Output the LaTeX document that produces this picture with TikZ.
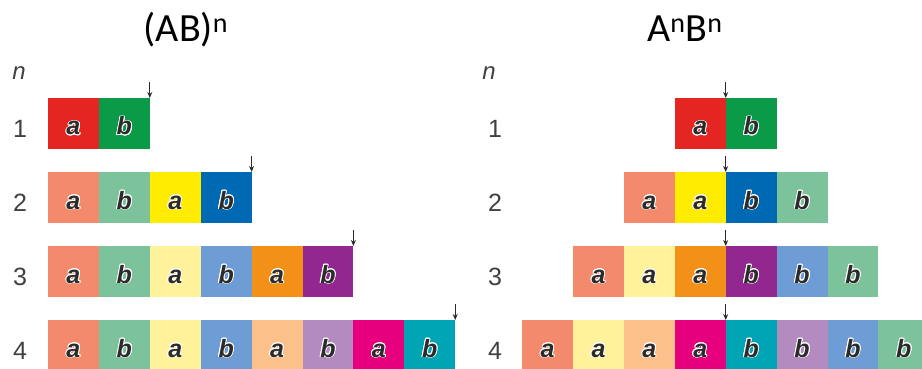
\documentclass[tikz,border=0pt]{standalone}
\usepackage{fontspec}
\setmainfont{Liberation Sans}
\newfontfamily\titlefont{Carlito}
\usepackage{contour}
\contourlength{0.9pt}
\usetikzlibrary{arrows.meta,positioning}
\definecolor{cred}{HTML}{E52521}
\definecolor{cgreen}{HTML}{0A9A48}
\definecolor{csalmon}{HTML}{F28A6B}
\definecolor{cmint}{HTML}{7CC29A}
\definecolor{cyellow}{HTML}{FFEC00}
\definecolor{cblue}{HTML}{0069B4}
\definecolor{cpale}{HTML}{FFF29A}
\definecolor{clblue}{HTML}{6E9DD5}
\definecolor{corange}{HTML}{F39017}
\definecolor{cpurple}{HTML}{92288F}
\definecolor{cpeach}{HTML}{FCC08B}
\definecolor{clav}{HTML}{B48BC1}
\definecolor{cmag}{HTML}{E6007E}
\definecolor{cteal}{HTML}{00A5B5}
\definecolor{ink}{HTML}{2B2B2B}

\begin{document}
\begin{tikzpicture}[x=1pt, y=-1pt,
    cell/.style={minimum width=50.9pt, minimum height=51pt, inner sep=0, outer sep=0,
        anchor=north west, text=ink, text height=23pt, text depth=0pt,
        font=\fontsize{25}{25}\selectfont\bfseries\itshape},
    rownum/.style={anchor=base, text=ink!90, font=\fontsize{25}{25}\selectfont},
    heading/.style={anchor=base, font=\titlefont\fontsize{40}{40}\selectfont},
    tick/.style={-{Stealth[length=6pt, width=5pt]}, ink, line width=1.2pt}
]
\useasboundingbox (0,0) rectangle (922,369);

% Titles
\node[heading] (tl) at (186,42) {(AB)\textsuperscript{n}};
\node[heading] (tr) at (685,42) {A\textsuperscript{n}B\textsuperscript{n}};

% Row labels
\node[rownum, font=\fontsize{24}{24}\selectfont\itshape] (nl) at (19,80) {n};
\node[rownum, font=\fontsize{24}{24}\selectfont\itshape] (nr) at (489,80) {n};
\foreach \r/\y in {1/98,2/172,3/246,4/320} {
    \node[rownum] (numl\r) at (20,\y+39) {\r};
    \node[rownum] (numr\r) at (495,\y+39) {\r};
}

% (AB)^n rows
\foreach \c/\t [count=\i] in {cred/a,cgreen/b}
    \node[cell, fill=\c] (L1-\i) at ({48+(\i-1)*50.9},98) {\contour{white!85}{\t}};
\foreach \c/\t [count=\i] in {csalmon/a,cmint/b,cyellow/a,cblue/b}
    \node[cell, fill=\c] (L2-\i) at ({48+(\i-1)*50.9},172) {\contour{white!85}{\t}};
\foreach \c/\t [count=\i] in {csalmon/a,cmint/b,cpale/a,clblue/b,corange/a,cpurple/b}
    \node[cell, fill=\c] (L3-\i) at ({48+(\i-1)*50.9},246) {\contour{white!85}{\t}};
\foreach \c/\t [count=\i] in {csalmon/a,cmint/b,cpale/a,clblue/b,cpeach/a,clav/b,cmag/a,cteal/b}
    \node[cell, fill=\c] (L4-\i) at ({48+(\i-1)*50.9},320) {\contour{white!85}{\t}};

% A^nB^n rows
\foreach \c/\t [count=\i] in {cred/a,cgreen/b}
    \node[cell, fill=\c] (R1-\i) at ({725.7+(\i-2)*50.9},98) {\contour{white!85}{\t}};
\foreach \c/\t [count=\i] in {csalmon/a,cyellow/a,cblue/b,cmint/b}
    \node[cell, fill=\c] (R2-\i) at ({725.7+(\i-3)*50.9},172) {\contour{white!85}{\t}};
\foreach \c/\t [count=\i] in {csalmon/a,cpale/a,corange/a,cpurple/b,clblue/b,cmint/b}
    \node[cell, fill=\c] (R3-\i) at ({725.7+(\i-4)*50.9},246) {\contour{white!85}{\t}};
\foreach \c/\t [count=\i] in {csalmon/a,cpale/a,cpeach/a,cmag/a,cteal/b,clav/b,clblue/b,cmint/b}
    \node[cell, fill=\c] (R4-\i) at ({725.7+(\i-5)*50.9},320) {\contour{white!85}{\t}};

% Arrows
\foreach \r/\k in {1/2,2/4,3/6,4/8} {
    \coordinate (al\r) at ([yshift=16pt]L\r-\k.north east);
    \draw[tick] (al\r) -- (L\r-\k.north east);
}
\foreach \r in {1,2,3,4} {
    \coordinate (ar\r) at ([yshift=16pt]R\r-\r.north east);
    \draw[tick] (ar\r) -- (R\r-\r.north east);
}
\end{tikzpicture}
\end{document}
